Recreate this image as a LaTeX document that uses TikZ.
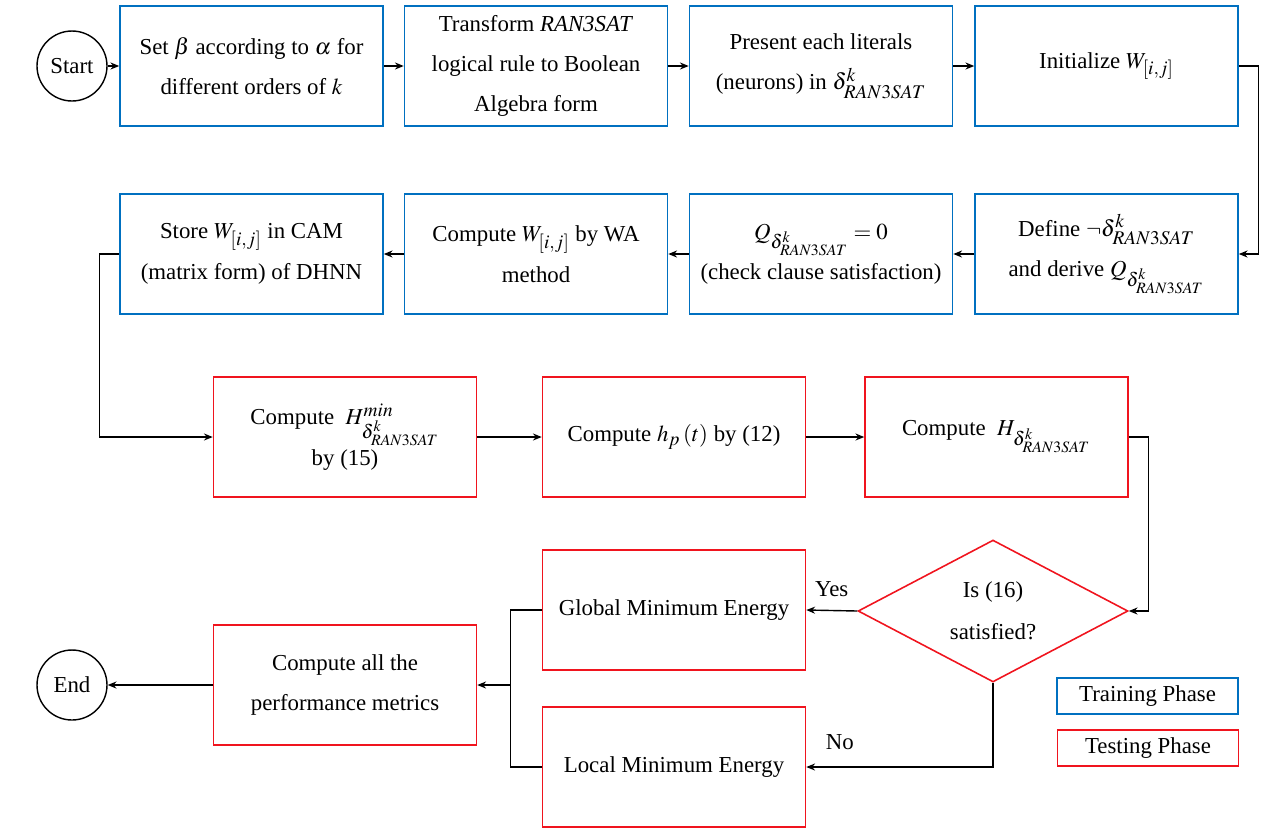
\documentclass[tikz,border=0pt]{standalone}
\usepackage{mathptmx}
\usepackage{fontspec}
\setmainfont{Liberation Serif}
\usetikzlibrary{arrows.meta, positioning, calc, shapes.geometric}

\DeclareMathSizes{13}{13}{11}{9}

\definecolor{trainblue}{RGB}{0,112,192}
\definecolor{testred}{RGB}{240,20,30}

\tikzset{
    stepbase/.style={rectangle, line width=0.9pt, minimum width=5.26cm,
        minimum height=2.4cm, align=center, inner sep=2pt,
        font=\rmfamily\fontsize{13}{23}\selectfont},
    trainbox/.style={stepbase, draw=trainblue},
    testbox/.style={stepbase, draw=testred},
    terminal/.style={circle, draw, line width=0.8pt, minimum size=1.4cm,
        inner sep=0pt, font=\rmfamily\fontsize{13}{15}\selectfont},
    decision/.style={diamond, draw=testred, line width=0.9pt, aspect=1.9,
        minimum width=5.4cm, minimum height=2.84cm, inner sep=0pt,
        align=center, font=\rmfamily\fontsize{13}{24}\selectfont},
    legendbox/.style={rectangle, line width=0.9pt, minimum width=3.62cm,
        minimum height=0.72cm, font=\rmfamily\fontsize{13}{15}\selectfont},
    flow/.style={->, line width=0.8pt},
    branch/.style={font=\rmfamily\fontsize{13}{15}\selectfont}
}

\newcommand{\dk}{\delta^{k}_{RAN3SAT}}
\newcommand{\Wij}{W_{\left[i,j\right]}}

\begin{document}
\begin{tikzpicture}[x=0.02cm, y=-0.02cm, >={Stealth[length=5pt,width=4pt]}]

\useasboundingbox (0,0) rectangle (1263,829);

% =========================================================
%  ROW 1: Training phase, left to right
% =========================================================
\node[terminal] (start) at (72,66) {Start};

\node[trainbox] (beta) at (251.5,66)
    {Set $\beta$ according to $\alpha$ for\\different orders of $k$};
\node[trainbox] (transform) at (536,66)
    {Transform \textit{RAN3SAT}\\logical rule to Boolean\\Algebra form};
\node[trainbox] (present) at (821,66)
    {Present each literals\\(neurons) in $\dk$};
\node[trainbox] (init) at (1106.5,66) {Initialize $\Wij$};

\draw[flow] (start) -- (beta);
\draw[flow] (beta) -- (transform);
\draw[flow] (transform) -- (present);
\draw[flow] (present) -- (init);

% =========================================================
%  ROW 2: Training phase, right to left
% =========================================================
\node[trainbox] (define) at (1106.5,254)
    {Define $\neg\dk$\\and derive $Q_{\dk}$};
\node[trainbox] (check) at (821,254)
    {$Q_{\dk}=0$\\(check clause satisfaction)};
\node[trainbox] (compw) at (536,254)
    {Compute\ $\Wij$\ by WA\\method};
\node[trainbox] (store) at (251.5,254)
    {Store\ $\Wij$ in CAM\\(matrix form) of DHNN};

\draw[flow] (init.east) -- ++(20,0) |- (define.east);
\draw[flow] (define) -- (check);
\draw[flow] (check) -- (compw);
\draw[flow] (compw) -- (store);

% =========================================================
%  ROW 3: Testing phase
% =========================================================
\node[testbox] (hmin) at (345,437)
    {Compute\ \ $H^{min}_{\dk}$\\by (15)};
\node[testbox] (local) at (674,437)
    {Compute $h_{p}\left(t\right)$ by (12)};
\node[testbox] (energy) at (996.5,437)
    {Compute\ \ $H_{\dk}$};

\draw[flow] (store.west) -- ++(-20,0) |- (hmin.west);
\draw[flow] (hmin) -- (local);
\draw[flow] (local) -- (energy);

% =========================================================
%  ROW 4: Decision and end
% =========================================================
\node[decision] (sat) at (993,611) {Is (16)\\satisfied?};
\node[testbox] (glob) at (674,610) {Global Minimum Energy};
\node[testbox] (loc) at (674,767) {Local Minimum Energy};
\node[testbox] (metrics) at (345,685)
    {Compute all the\\performance metrics};
\node[terminal] (end) at (72,685) {End};

\coordinate (merge) at ($(metrics.east)+(33,0)$);

\draw[flow] (energy.east) -- ++(20,0) |- (sat.east);
\draw[flow] (sat.west) -- (glob.east)
    node[branch, midway, above=4pt] {Yes};
\draw[flow] (sat.south) |- (loc.east)
    node[branch, pos=0.91, above=6pt] {No};
\draw[line width=0.8pt] (glob.west) -| (merge);
\draw[line width=0.8pt] (loc.west) -| (merge);
\draw[flow] (merge) -- (metrics.east);
\draw[flow] (metrics) -- (end);

% Legend
\node[legendbox, draw=trainblue] (trainlg) at (1147.5,696) {Training Phase};
\node[legendbox, draw=testred] (testlg) at (1148,748) {Testing Phase};

\end{tikzpicture}
\end{document}
